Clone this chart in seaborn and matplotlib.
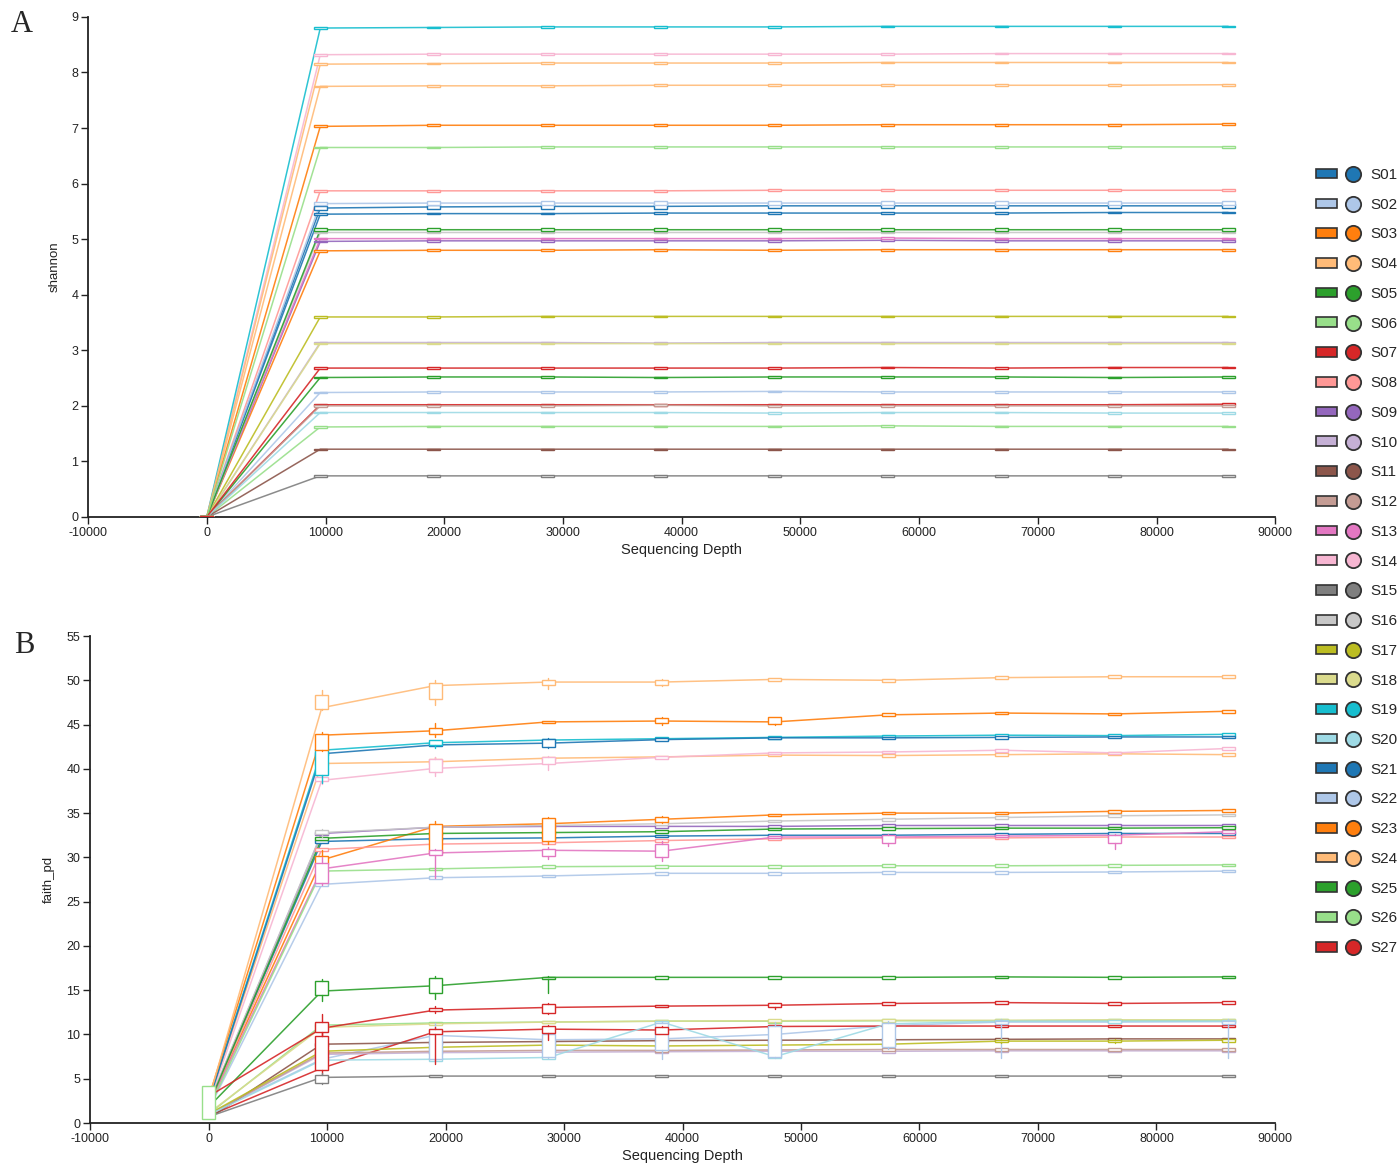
import matplotlib
matplotlib.use("Agg")
import matplotlib.pyplot as plt
import numpy as np
import pandas as pd
import seaborn as sns
from matplotlib.patches import Patch
from matplotlib.lines import Line2D
from matplotlib.legend_handler import HandlerTuple

# ---------------- data ----------------
samples = ["S01", "S02", "S03", "S04", "S05", "S06", "S07", "S08", "S09",
           "S10", "S11", "S12", "S13", "S14", "S15", "S16", "S17", "S18",
           "S19", "S20", "S21", "S22", "S23", "S24", "S25", "S26", "S27"]

depths = [1, 9560, 19120, 28680, 38240, 47800, 57360, 66920, 76480, 86040]

# shannon medians per sample (depth order as above)
shannon = {
    "S01": [0, 5.45, 5.46, 5.46, 5.47, 5.47, 5.47, 5.47, 5.48, 5.48],
    "S02": [0, 2.24, 2.25, 2.25, 2.25, 2.26, 2.25, 2.25, 2.25, 2.25],
    "S03": [0, 4.79, 4.80, 4.80, 4.81, 4.80, 4.81, 4.81, 4.81, 4.81],
    "S04": [0, 7.75, 7.76, 7.76, 7.77, 7.77, 7.77, 7.77, 7.77, 7.78],
    "S05": [0, 2.51, 2.52, 2.52, 2.51, 2.52, 2.52, 2.52, 2.51, 2.52],
    "S06": [0, 1.62, 1.63, 1.63, 1.63, 1.63, 1.64, 1.63, 1.63, 1.63],
    "S07": [0, 2.02, 2.02, 2.02, 2.02, 2.02, 2.02, 2.02, 2.02, 2.03],
    "S08": [0, 5.87, 5.87, 5.87, 5.87, 5.88, 5.88, 5.88, 5.88, 5.88],
    "S09": [0, 4.96, 4.97, 4.97, 4.97, 4.97, 4.98, 4.97, 4.97, 4.97],
    "S10": [0, 3.14, 3.14, 3.14, 3.13, 3.14, 3.14, 3.14, 3.14, 3.14],
    "S11": [0, 1.22, 1.22, 1.22, 1.22, 1.22, 1.22, 1.22, 1.22, 1.22],
    "S12": [0, 2.00, 2.00, 2.00, 2.01, 2.00, 2.00, 2.00, 2.00, 2.00],
    "S13": [0, 5.01, 5.01, 5.01, 5.01, 5.01, 5.02, 5.01, 5.01, 5.01],
    "S14": [0, 8.32, 8.33, 8.33, 8.33, 8.33, 8.33, 8.34, 8.34, 8.34],
    "S15": [0, 0.74, 0.74, 0.74, 0.74, 0.74, 0.74, 0.74, 0.74, 0.74],
    "S16": [0, 5.12, 5.12, 5.12, 5.12, 5.12, 5.12, 5.12, 5.12, 5.12],
    "S17": [0, 3.60, 3.60, 3.61, 3.61, 3.61, 3.61, 3.61, 3.61, 3.61],
    "S18": [0, 3.12, 3.12, 3.12, 3.12, 3.12, 3.12, 3.12, 3.12, 3.12],
    "S19": [0, 8.80, 8.81, 8.82, 8.82, 8.82, 8.83, 8.83, 8.83, 8.83],
    "S20": [0, 1.88, 1.88, 1.88, 1.88, 1.87, 1.88, 1.88, 1.87, 1.87],
    "S21": [0, 5.56, 5.58, 5.59, 5.59, 5.60, 5.60, 5.60, 5.60, 5.60],
    "S22": [0, 5.64, 5.65, 5.65, 5.65, 5.65, 5.65, 5.65, 5.65, 5.65],
    "S23": [0, 7.03, 7.05, 7.05, 7.05, 7.05, 7.06, 7.06, 7.06, 7.07],
    "S24": [0, 8.15, 8.16, 8.17, 8.17, 8.17, 8.18, 8.18, 8.18, 8.18],
    "S25": [0, 5.17, 5.17, 5.17, 5.17, 5.17, 5.17, 5.17, 5.17, 5.17],
    "S26": [0, 6.65, 6.65, 6.66, 6.66, 6.66, 6.66, 6.66, 6.66, 6.66],
    "S27": [0, 2.68, 2.68, 2.68, 2.68, 2.68, 2.69, 2.68, 2.69, 2.69],
}
# half height of the (tiny) shannon boxes per sample
shannon_half = [0.015, 0.012, 0.015, 0.015, 0.012, 0.012, 0.015, 0.015, 0.015,
                0.012, 0.012, 0.015, 0.015, 0.015, 0.012, 0.015, 0.012, 0.012,
                0.012, 0.012, 0.04, 0.03, 0.02, 0.015, 0.03, 0.012, 0.015]

# faith_pd medians per sample
faith = {
    "S01": [2.0, 31.8, 32.1, 32.2, 32.4, 32.5, 32.5, 32.6, 32.7, 32.7],
    "S02": [1.0, 7.2, 9.9, 9.4, 9.5, 10.0, 11.0, 11.4, 11.4, 11.45],
    "S03": [2.0, 29.7, 33.5, 33.8, 34.3, 34.8, 35.0, 35.0, 35.2, 35.3],
    "S04": [2.4, 40.6, 40.8, 41.2, 41.35, 41.55, 41.5, 41.6, 41.7, 41.6],
    "S05": [1.8, 14.9, 15.5, 16.45, 16.45, 16.45, 16.45, 16.5, 16.45, 16.5],
    "S06": [1.0, 11.05, 11.3, 11.4, 11.5, 11.5, 11.55, 11.55, 11.6, 11.6],
    "S07": [0.8, 6.2, 10.3, 10.6, 10.5, 10.9, 10.95, 10.95, 10.95, 10.95],
    "S08": [2.0, 30.9, 31.5, 31.65, 31.9, 32.1, 32.2, 32.2, 32.3, 32.3],
    "S09": [2.1, 32.7, 33.4, 33.5, 33.5, 33.5, 33.6, 33.6, 33.6, 33.6],
    "S10": [0.9, 7.75, 7.95, 8.0, 8.05, 8.1, 8.1, 8.15, 8.15, 8.15],
    "S11": [0.5, 8.9, 9.1, 9.2, 9.3, 9.35, 9.4, 9.45, 9.5, 9.5],
    "S12": [0.9, 7.9, 8.1, 8.2, 8.2, 8.25, 8.3, 8.3, 8.3, 8.3],
    "S13": [1.9, 28.7, 30.5, 30.8, 30.7, 32.3, 32.3, 32.4, 32.5, 32.9],
    "S14": [2.2, 38.7, 40.05, 40.6, 41.3, 41.8, 41.9, 42.1, 41.8, 42.3],
    "S15": [0.7, 5.15, 5.3, 5.3, 5.3, 5.3, 5.3, 5.3, 5.3, 5.3],
    "S16": [2.2, 32.8, 33.4, 33.6, 33.8, 34.1, 34.3, 34.5, 34.7, 34.8],
    "S17": [1.0, 8.1, 8.55, 8.8, 8.7, 8.8, 8.9, 9.25, 9.25, 9.35],
    "S18": [1.1, 10.8, 11.2, 11.4, 11.5, 11.55, 11.6, 11.6, 11.65, 11.65],
    "S19": [2.5, 42.1, 42.95, 43.25, 43.4, 43.55, 43.7, 43.8, 43.75, 43.9],
    "S20": [0.9, 7.1, 7.2, 7.4, 11.4, 7.5, 11.2, 11.5, 11.5, 11.5],
    "S21": [2.4, 41.7, 42.7, 42.9, 43.3, 43.5, 43.5, 43.55, 43.6, 43.6],
    "S22": [1.5, 26.95, 27.7, 27.9, 28.2, 28.2, 28.3, 28.3, 28.35, 28.45],
    "S23": [2.8, 43.8, 44.3, 45.3, 45.4, 45.3, 46.1, 46.3, 46.2, 46.5],
    "S24": [2.6, 46.9, 49.4, 49.8, 49.8, 50.1, 50.0, 50.3, 50.4, 50.4],
    "S25": [2.0, 32.15, 32.7, 32.8, 32.9, 33.2, 33.25, 33.3, 33.3, 33.35],
    "S26": [1.6, 28.45, 28.7, 28.95, 29.0, 29.0, 29.05, 29.05, 29.1, 29.15],
    "S27": [3.0, 10.7, 12.75, 13.05, 13.2, 13.3, 13.5, 13.6, 13.5, 13.6],
}
faith_half = 0.15  # half height of the small default faith_pd boxes

# visible faith_pd boxes: (sample, depth index, whisker low, q1, q3, whisker high)
faith_boxes = [
    ("S06", 0, 0.45, 0.5, 4.2, 4.2),
    ("S24", 1, 46.6, 46.8, 48.3, 48.9), ("S24", 2, 47.2, 47.9, 49.7, 50.0),
    ("S24", 3, 49.0, 49.5, 50.0, 50.3), ("S24", 4, 49.3, 49.5, 50.0, 50.2),
    ("S23", 1, 42.0, 42.1, 43.9, 44.2), ("S23", 2, 43.6, 43.9, 44.6, 45.2),
    ("S23", 4, 45.0, 45.2, 45.7, 45.8), ("S23", 5, 44.9, 45.1, 45.8, 45.9),
    ("S19", 1, 38.4, 39.3, 42.2, 42.5), ("S19", 2, 42.4, 42.7, 43.2, 43.3),
    ("S21", 3, 42.4, 42.5, 43.4, 43.5),
    ("S14", 1, 38.3, 38.6, 39.1, 39.3), ("S14", 2, 39.2, 39.6, 41.1, 41.3),
    ("S14", 3, 39.9, 40.6, 41.3, 41.5),
    ("S04", 2, 40.5, 40.6, 41.1, 41.3),
    ("S03", 1, 28.9, 29.2, 30.2, 30.8), ("S03", 2, 30.3, 30.5, 33.8, 34.1),
    ("S03", 3, 31.5, 31.8, 34.4, 34.6), ("S03", 4, 33.9, 34.0, 34.6, 34.7),
    ("S16", 1, 32.3, 32.6, 33.1, 33.2),
    ("S13", 1, 26.9, 27.1, 29.4, 30.0), ("S13", 2, 27.7, 30.3, 30.8, 31.0),
    ("S13", 3, 29.8, 30.1, 31.0, 31.2), ("S13", 4, 29.6, 30.0, 31.5, 31.8),
    ("S13", 6, 31.3, 31.6, 32.5, 32.6), ("S13", 8, 31.0, 31.6, 32.5, 32.6),
    ("S05", 1, 13.8, 14.5, 16.0, 16.3), ("S05", 2, 14.0, 14.7, 16.4, 16.6),
    ("S05", 3, 14.7, 16.3, 16.5, 16.6),
    ("S27", 1, 9.8, 10.3, 11.4, 12.3), ("S27", 2, 12.4, 12.6, 13.0, 13.2),
    ("S27", 3, 12.3, 12.4, 13.4, 13.5), ("S27", 5, 12.9, 13.1, 13.5, 13.6),
    ("S07", 1, 5.5, 6.0, 9.8, 10.3), ("S07", 2, 6.7, 10.1, 10.6, 10.8),
    ("S07", 3, 9.4, 10.2, 10.9, 11.1), ("S07", 4, 10.0, 10.1, 10.8, 10.9),
    ("S02", 2, 7.0, 7.2, 10.5, 11.3), ("S02", 3, 7.3, 7.4, 10.0, 11.0),
    ("S02", 4, 7.2, 8.3, 11.3, 11.5), ("S02", 5, 7.3, 7.5, 11.0, 11.4),
    ("S02", 6, 8.4, 8.6, 11.3, 11.5), ("S02", 7, 7.3, 11.2, 11.5, 11.7),
    ("S02", 9, 7.3, 11.2, 11.5, 11.7),
    ("S15", 1, 4.4, 4.5, 5.4, 5.6),
    ("S17", 7, 9.0, 9.1, 9.4, 9.5), ("S17", 8, 9.0, 9.1, 9.4, 9.5),
]

x_ticks = [-10000, 0, 10000, 20000, 30000, 40000, 50000, 60000, 70000, 80000, 90000]
shannon_ticks = [0, 1, 2, 3, 4, 5, 6, 7, 8, 9]
faith_ticks = [0, 5, 10, 15, 20, 25, 30, 35, 40, 45, 50, 55]

# ---------------- style ----------------
sns.set_style("ticks")
plt.rcParams["font.family"] = ["Liberation Sans", "DejaVu Sans"]
plt.rcParams["axes.unicode_minus"] = False

tab20 = sns.color_palette("tab20", 20)
palette = {s: tab20[i % 20] for i, s in enumerate(samples)}

fig = plt.figure(figsize=(14, 11.67), dpi=100)
axA = fig.add_axes([0.0629, 0.557, 0.848, 0.4285])
axB = fig.add_axes([0.0643, 0.0377, 0.8464, 0.4173])

BOX_W = 1100


def long_df(d):
    rows = []
    for s in samples:
        for dep, v in zip(depths, d[s]):
            rows.append((s, dep, v))
    return pd.DataFrame(rows, columns=["sample", "depth", "value"])


def draw_boxes(ax, s, stats, pos, z):
    c = palette[s]
    if not stats:
        return
    ax.bxp(stats, positions=pos, widths=BOX_W, showcaps=False,
           showfliers=False, patch_artist=True, manage_ticks=False,
           boxprops=dict(facecolor="white", edgecolor=c, lw=1.0),
           whiskerprops=dict(color=c, lw=1.0),
           medianprops=dict(color=c, lw=0.0), zorder=z)


def draw_panel(ax, d, stats_for):
    df = long_df(d)
    sns.lineplot(data=df, x="depth", y="value", hue="sample", palette=palette,
                 estimator=None, sort=False, legend=False, lw=1.1, alpha=0.9,
                 ax=ax, zorder=2)
    # small boxes first, then the large (visible) boxes on top
    for layer, z in [(False, 3), (True, 4)]:
        for s in samples:
            st, pos = [], []
            for dep, (stat, big) in zip(depths, stats_for(s)):
                if big == layer and stat is not None:
                    st.append(stat)
                    pos.append(dep)
            draw_boxes(ax, s, st, pos, z)


def shannon_stats(s):
    h = shannon_half[samples.index(s)]
    out = []
    for i, m in enumerate(shannon[s]):
        if i == 0:
            out.append((dict(med=m, q1=m, q3=m + 0.01, whislo=m, whishi=m, fliers=[]), False))
            continue
        out.append((dict(med=m, q1=m - h, q3=m + h, whislo=m - h,
                         whishi=m + h, fliers=[]), False))
    return out


box_lookup = {(b[0], b[1]): b[2:] for b in faith_boxes}


def faith_stats(s):
    out = []
    for i, m in enumerate(faith[s]):
        if (s, i) in box_lookup:
            lo, q1, q3, hi = box_lookup[(s, i)]
            out.append((dict(med=m, q1=q1, q3=q3, whislo=lo, whishi=hi, fliers=[]), True))
        elif i == 0:
            out.append((None, False))
        else:
            h = faith_half
            out.append((dict(med=m, q1=m - h, q3=m + h, whislo=m - h,
                             whishi=m + h, fliers=[]), False))
    return out


draw_panel(axA, shannon, shannon_stats)
draw_panel(axB, faith, faith_stats)

for ax, yt, ylab, ylim in [(axA, shannon_ticks, "shannon", (0, 9)),
                           (axB, faith_ticks, "faith_pd", (0, 55))]:
    ax.set_xlim(-10000, 90000)
    ax.set_ylim(*ylim)
    ax.set_xticks(x_ticks)
    ax.set_xticklabels([str(t) for t in x_ticks])
    ax.set_yticks(yt)
    ax.set_yticklabels([str(t) for t in yt])
    ax.tick_params(axis="both", direction="out", length=5, width=1.0,
                   labelsize=9, colors="#222222", pad=2)
    sns.despine(ax=ax)
    for sp in ["left", "bottom"]:
        ax.spines[sp].set_color("#222222")
        ax.spines[sp].set_linewidth(1.3)
    ax.set_xlabel("Sequencing Depth", fontsize=10.5, color="#222222", labelpad=3)
    ax.set_ylabel(ylab, fontsize=9.5, color="#222222", labelpad=8)
    ax.grid(False)

fig.text(0.0157, 0.9786, "A", fontsize=22, family="Liberation Serif",
         ha="center", va="center")
fig.text(0.0171, 0.4473, "B", fontsize=22, family="Liberation Serif",
         ha="center", va="center")

handles = []
for s in samples:
    c = palette[s]
    p = Patch(facecolor=c, edgecolor="#333333", lw=1.2)
    m = Line2D([], [], marker="o", linestyle="none", markersize=11,
               markerfacecolor=c, markeredgecolor="#333333", markeredgewidth=1.3)
    handles.append((p, m))

fig.legend(handles, samples, loc="upper left",
           bbox_to_anchor=(1316 / 1400, 1 - 168 / 1167),
           frameon=False, fontsize=11, labelspacing=1.03,
           handler_map={tuple: HandlerTuple(ndivide=None, pad=0.35)},
           handlelength=3.1, handleheight=0.6, handletextpad=0.45,
           borderpad=0, borderaxespad=0)

fig.savefig("out.png", dpi=100)
